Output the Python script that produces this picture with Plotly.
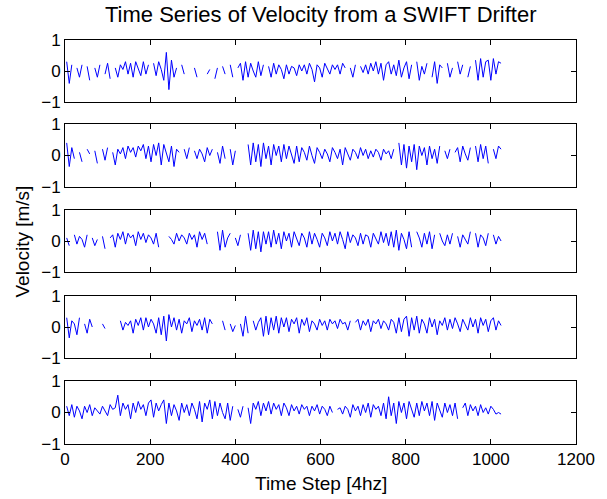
import plotly.graph_objects as go

N = None
# time steps (sampled every 6 steps)
time_steps = list(range(4, 1025, 6))

vel_1 = [0.3,-0.4,0.2,N,0.1,-0.2,0.2,N,0.15,-0.3,
         N,0.1,-0.2,0.2,N,-0.1,0.25,-0.25,N,0.1,
         -0.2,0.2,0.05,0.3,-0.1,0.25,-0.2,0.3,0.1,-0.15,
         0.3,-0.1,0.2,N,0.25,-0.15,0.3,0.05,-0.3,0.6,
         -0.6,0.35,-0.2,0.1,N,0.2,-0.1,N,0.05,N,
         0.1,-0.2,N,0.15,N,-0.1,0.05,N,-0.25,0.1,
         N,0.15,-0.1,N,0.2,-0.2,N,0.1,0.25,-0.3,
         0.3,-0.2,0.25,0.0,-0.2,0.3,-0.15,0.2,N,0.15,
         -0.2,0.25,-0.1,0.2,0.05,-0.25,0.2,-0.1,0.15,0.1,
         -0.15,0.2,0.0,0.2,-0.1,0.25,0.05,-0.35,0.2,0.1,
         -0.2,0.25,0.1,-0.1,0.2,0.05,0.2,-0.1,0.25,0.1,
         N,0.1,-0.2,0.2,N,0.15,-0.05,0.2,-0.1,0.25,
         0.0,0.3,-0.1,0.25,-0.3,0.2,0.3,-0.1,0.2,-0.15,
         0.35,-0.2,0.1,0.3,-0.25,0.2,N,0.3,-0.3,0.15,
         -0.1,0.25,N,-0.2,0.3,-0.4,0.2,0.1,N,0.25,
         -0.2,0.1,N,0.3,-0.1,0.2,N,-0.2,0.15,N,
         0.35,-0.3,0.4,-0.2,0.3,0.35,-0.3,0.4,-0.1,0.3,
         0.25]

vel_2 = [0.4,-0.35,0.25,-0.1,N,0.1,-0.2,N,0.2,0.05,
         N,0.15,-0.25,N,0.2,-0.15,0.25,N,0.1,-0.3,
         0.2,0.05,0.25,-0.1,0.3,0.1,0.25,-0.05,0.3,0.15,
         0.35,-0.1,0.3,-0.2,0.35,0.0,0.4,-0.3,0.35,0.1,
         -0.2,0.3,-0.35,0.2,0.1,N,0.2,-0.1,0.25,N,
         0.15,-0.1,0.2,0.05,-0.2,0.25,0.0,0.2,N,0.1,
         -0.25,0.3,-0.1,N,0.2,-0.3,0.15,N,N,0.1,
         N,0.35,-0.3,0.4,-0.2,0.35,-0.35,0.4,-0.1,0.3,
         -0.3,0.35,0.0,0.3,-0.2,0.35,-0.1,0.3,0.05,-0.25,
         0.3,-0.2,0.25,0.1,-0.15,0.3,0.0,-0.25,0.25,0.1,
         -0.1,0.2,0.05,-0.2,0.25,0.1,-0.1,0.2,-0.3,0.25,
         0.05,-0.15,0.2,0.1,-0.1,0.25,0.0,0.2,-0.1,0.15,
         -0.05,0.2,0.1,-0.15,0.2,0.05,0.15,-0.1,0.2,N,
         0.4,-0.3,0.35,-0.4,0.3,-0.2,0.35,-0.45,0.3,0.0,
         0.25,-0.3,0.3,-0.1,0.2,-0.25,0.3,N,0.15,-0.1,
         0.2,N,0.1,0.25,-0.2,0.3,0.05,-0.15,0.25,N,
         0.3,-0.2,0.35,-0.1,0.3,-0.25,N,0.2,-0.1,0.3,
         0.2]

vel_3 = [0.1,-0.15,N,0.2,-0.1,0.15,0.05,-0.2,0.2,N,
         0.1,-0.15,0.05,N,0.15,-0.25,N,0.1,0.2,-0.2,
         0.25,0.05,0.3,-0.1,0.25,0.1,0.2,-0.15,0.3,0.05,
         0.25,-0.05,0.2,0.1,-0.1,0.25,-0.2,N,0.1,N,
         0.15,0.05,-0.1,0.25,0.0,0.2,0.1,-0.1,0.25,0.05,
         0.2,-0.2,0.3,0.05,0.25,-0.1,N,0.1,N,0.3,
         -0.3,0.35,-0.2,0.1,0.25,N,0.1,-0.15,0.2,N,
         N,0.25,-0.3,0.35,-0.25,0.3,-0.35,0.3,-0.1,0.3,
         -0.2,0.35,-0.1,0.25,-0.25,0.3,0.0,0.25,-0.2,0.3,
         0.05,-0.15,0.25,0.1,-0.2,0.3,-0.1,0.25,0.05,-0.2,
         0.25,0.1,-0.15,0.3,0.0,0.25,-0.1,0.3,0.05,-0.25,
         0.3,-0.05,0.2,0.1,-0.15,0.25,-0.1,0.2,0.15,-0.2,
         0.25,0.05,-0.1,0.3,-0.05,0.25,-0.15,0.3,-0.2,0.35,
         -0.3,0.25,0.05,-0.25,0.3,-0.2,N,0.3,0.1,-0.2,
         0.25,-0.1,0.3,-0.25,0.2,N,0.25,0.0,-0.15,0.2,
         -0.1,0.25,N,0.15,-0.2,0.2,0.05,-0.1,0.3,N,
         0.25,-0.2,0.2,0.1,-0.15,0.25,N,0.2,-0.1,0.15,
         0.0]

vel_4 = [0.3,-0.35,0.2,0.1,-0.25,0.3,N,0.1,-0.2,0.25,
         0.0,N,0.05,N,0.1,-0.05,N,0.15,N,0.0,
         N,0.2,-0.1,0.15,0.05,0.2,-0.2,0.25,0.05,0.3,
         -0.1,0.3,0.0,0.25,0.1,-0.2,0.3,-0.25,0.35,-0.45,
         0.4,0.0,0.3,-0.1,0.25,-0.2,0.2,0.1,0.3,-0.15,
         0.2,0.05,0.25,-0.1,0.3,-0.2,0.25,0.1,N,0.05,
         N,0.2,-0.1,N,0.1,-0.15,0.05,N,0.1,-0.3,
         0.35,-0.2,N,0.2,-0.1,0.15,0.3,-0.3,0.35,-0.25,
         0.3,-0.1,0.35,-0.2,0.3,0.0,0.3,-0.15,0.25,0.1,
         0.3,-0.2,0.25,0.05,0.3,-0.15,0.2,0.1,-0.1,0.25,
         0.05,0.2,-0.1,0.25,0.1,0.2,-0.05,0.25,0.1,0.15,
         -0.1,0.2,N,0.15,0.25,-0.1,0.2,0.05,0.25,-0.15,
         0.2,0.1,0.25,-0.05,0.2,0.1,-0.1,0.25,0.15,-0.2,
         0.3,-0.15,0.25,0.35,-0.3,0.3,-0.1,0.35,-0.2,0.25,
         0.1,-0.2,0.3,0.0,0.25,-0.25,0.2,0.05,0.3,-0.1,
         0.25,-0.05,0.3,0.1,-0.15,0.25,0.1,-0.1,0.3,0.0,
         0.25,-0.2,0.3,0.05,0.25,-0.15,0.2,0.3,-0.1,0.2,
         0.05]

vel_5 = [0.2,-0.1,0.25,-0.15,0.2,0.05,-0.2,0.2,0.0,0.25,
         -0.1,0.15,0.05,-0.05,0.2,0.05,-0.1,0.25,0.1,0.15,
         0.55,-0.1,0.3,0.1,0.25,-0.2,0.3,0.0,0.35,0.1,
         0.25,-0.1,0.3,0.4,-0.15,0.3,0.05,0.25,0.4,-0.35,
         0.3,-0.1,0.25,0.05,-0.25,0.3,0.0,0.25,-0.1,0.3,
         0.1,-0.2,0.35,-0.3,0.3,0.1,0.4,-0.2,0.35,-0.1,
         0.3,0.0,-0.2,0.3,-0.25,0.2,N,0.1,-0.15,0.2,
         N,0.15,-0.35,0.3,0.1,0.35,-0.1,0.3,0.05,0.35,
         -0.05,0.3,0.1,0.25,-0.1,0.3,0.15,-0.1,0.25,0.05,
         0.2,-0.05,0.25,0.1,0.2,-0.1,0.2,0.05,0.25,-0.05,
         0.2,0.1,-0.1,0.2,0.0,N,0.1,0.15,-0.05,0.2,
         0.1,-0.15,0.25,0.05,0.2,-0.1,0.25,0.0,0.3,-0.15,
         0.25,0.1,0.2,-0.1,0.3,-0.2,0.5,-0.1,0.3,-0.35,
         0.35,0.0,0.3,-0.2,0.35,0.1,-0.15,0.3,-0.1,0.35,
         0.05,0.3,-0.1,0.35,-0.25,0.3,0.1,-0.15,0.3,0.0,
         0.25,-0.1,0.3,-0.2,N,0.15,0.3,-0.1,0.25,0.05,
         0.2,-0.1,0.25,0.0,0.15,-0.05,0.2,0.1,-0.05,0.0,
         -0.05]

series = [vel_1, vel_2, vel_3, vel_4, vel_5]

x_ticks = [0, 200, 400, 600, 800, 1000, 1200]
y_ticks = [-1, 0, 1]
y_tick_text = ["\u22121", "0", "1"]

# subplot domains (paper fraction)
domains = [[0.8465, 1.0], [0.6361, 0.7921], [0.4257, 0.5792],
           [0.2129, 0.3663], [0.0, 0.1559]]

font_family = "Liberation Sans, Arial, Helvetica, sans-serif"
fig = go.Figure()
layout = dict(
    width=607, height=499,
    margin=dict(l=65, r=23, t=40, b=55),
    paper_bgcolor="white", plot_bgcolor="white",
    showlegend=False,
    font=dict(family=font_family, size=17, color="black"),
)

for i, s in enumerate(series):
    k = "" if i == 0 else str(i + 1)
    fig.add_trace(go.Scatter(
        x=time_steps, y=s, mode="lines",
        line=dict(color="#0000ff", width=1),
        connectgaps=False,
        xaxis="x" + k, yaxis="y" + k,
    ))
    layout["xaxis" + k] = dict(
        domain=[0, 1], anchor="y" + k, range=[0, 1200],
        tickvals=x_ticks, ticks="inside", ticklen=5, tickcolor="black",
        showticklabels=(i == 4), showline=True, mirror="allticks",
        linecolor="black", linewidth=1, showgrid=False, zeroline=False,
        tickfont=dict(size=17),
    )
    layout["yaxis" + k] = dict(
        domain=domains[i], anchor="x" + k, range=[-1, 1],
        tickvals=y_ticks, ticktext=y_tick_text, ticks="inside", ticklen=5,
        tickcolor="black", showline=True, mirror="allticks",
        linecolor="black", linewidth=1, showgrid=False, zeroline=False,
        tickfont=dict(size=17),
    )

layout["annotations"] = [
    dict(text="Time Series of Velocity from a SWIFT Drifter", x=0.5,
         y=1.0 + 25 / 404, yanchor="middle",
         xref="paper", yref="paper", showarrow=False,
         font=dict(size=22)),
    dict(text="Time Step [4hz]", x=0.5, y=-0.066, xref="paper", yref="paper",
         showarrow=False, font=dict(size=19), yanchor="top"),
    dict(text="Velocity [m/s]", x=-0.085, y=0.5, xref="paper", yref="paper",
         showarrow=False, font=dict(size=19), textangle=-90, xanchor="center"),
]
fig.update_layout(**layout)

fig.write_html("out.html")
